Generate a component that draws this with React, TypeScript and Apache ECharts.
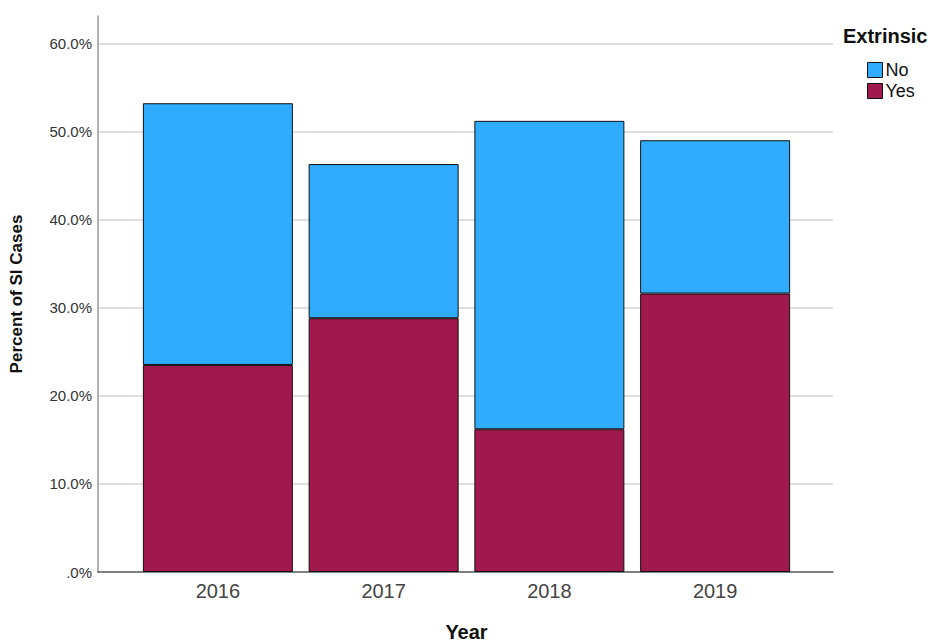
import React, { useEffect, useRef } from "react";
import * as echarts from "echarts";

const years = ["2016", "2017", "2018", "2019"];
const yesValues = [23.5, 28.8, 16.2, 31.6];
const noValues = [29.7, 17.5, 35.0, 17.4];
const yTicks = [0, 10, 20, 30, 40, 50, 60];

const FONT = "'Liberation Sans', Arial, sans-serif";

export default function App() {
  const ref = useRef<HTMLDivElement>(null);
  useEffect(() => {
    const chart = echarts.init(ref.current!, null, { renderer: "svg" });
    const fmt = (v: number) => (v === 0 ? ".0%" : v.toFixed(1) + "%");
    chart.setOption({
      animation: false,
      backgroundColor: "#ffffff",
      textStyle: { fontFamily: FONT },
      grid: [
        { left: 98, right: 102, top: 16, bottom: 71, containLabel: false, outerBoundsMode: "none" },
        { left: 135, right: 137, top: 16, bottom: 71, containLabel: false, outerBoundsMode: "none" },
      ],
      legend: {
        orient: "vertical",
        left: 862,
        top: 56,
        icon: "rect",
        itemWidth: 15,
        itemHeight: 15,
        itemGap: 3,
        textStyle: { fontSize: 18, color: "#111", fontFamily: FONT, padding: [0, 0, 0, -2] },
        itemStyle: { borderColor: "#111", borderWidth: 1 },
        data: ["No", "Yes"],
      },
      graphic: [
        {
          type: "text",
          left: 843,
          top: 26,
          style: { text: "Extrinsic", font: "bold 20px " + FONT, fill: "#111" },
        },
      ],
      xAxis: [
        {
          type: "category",
          gridIndex: 0,
          data: years,
          axisLine: { show: true, lineStyle: { color: "#555", width: 1.5 } },
          axisTick: { show: false },
          axisLabel: { show: false },
          splitLine: { show: false },
        },
        {
          type: "category",
          gridIndex: 1,
          data: years,
          name: "Year",
          nameLocation: "middle",
          nameGap: 50,
          nameTextStyle: { fontWeight: "bold", fontSize: 20, color: "#111", fontFamily: FONT },
          axisLine: { show: false },
          axisTick: { show: false },
          axisLabel: { fontSize: 20, color: "#444", margin: 9, fontFamily: FONT },
        },
      ],
      yAxis: [
        {
          type: "value",
          gridIndex: 0,
          min: 0,
          max: 63.1,
          interval: 10,
          name: "Percent of SI Cases",
          nameLocation: "middle",
          nameGap: 73,
          nameTextStyle: { fontWeight: "bold", fontSize: 17, color: "#111", fontFamily: FONT },
          axisLine: { show: true, lineStyle: { color: "#999", width: 1.5 } },
          axisTick: { show: false },
          axisLabel: {
            showMaxLabel: false,
            fontSize: 15,
            color: "#333",
            margin: 6,
            fontFamily: FONT,
            formatter: (v: number) => (yTicks.includes(v) ? fmt(v) : ""),
          },
          splitLine: { show: true, showMaxLine: false, showMinLine: false, lineStyle: { color: "#d4d4d4", width: 1.5 } },
        },
        {
          type: "value",
          gridIndex: 1,
          min: 0,
          max: 63.1,
          interval: 10,
          show: false,
          splitLine: { show: false },
        },
      ],
      series: [
        {
          name: "Yes",
          type: "bar",
          stack: "total",
          xAxisIndex: 1,
          yAxisIndex: 1,
          barWidth: 150,
          data: yesValues,
          itemStyle: { color: "#a0194c", borderColor: "#111", borderWidth: 1 },
        },
        {
          name: "No",
          type: "bar",
          stack: "total",
          xAxisIndex: 1,
          yAxisIndex: 1,
          barWidth: 150,
          data: noValues,
          itemStyle: { color: "#30acfe", borderColor: "#111", borderWidth: 1 },
        },
      ],
    });
    return () => chart.dispose();
  }, []);
  return <div ref={ref} style={{ width: 935, height: 643, position: "absolute", left: 0, top: 0 }} />;
}
